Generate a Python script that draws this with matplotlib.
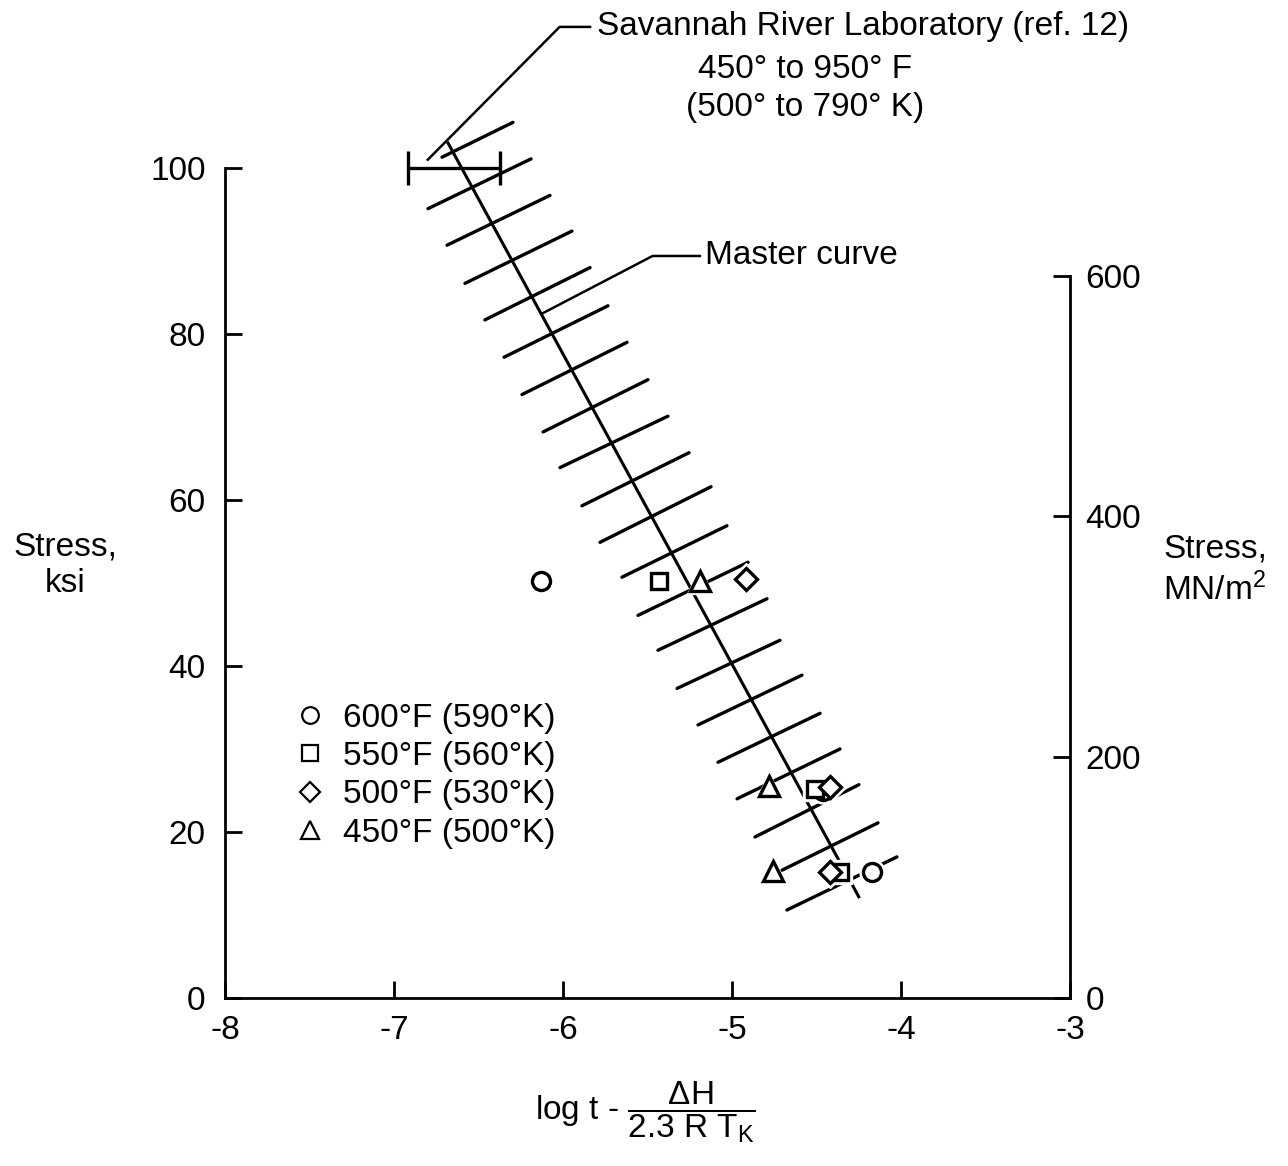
import numpy as np
import matplotlib
matplotlib.use("Agg")
from matplotlib import pyplot as plt
from matplotlib.lines import Line2D

plt.rcParams['font.family'] = ['Liberation Sans', 'DejaVu Sans']
plt.rcParams['mathtext.fontset'] = 'custom'
plt.rcParams['mathtext.rm'] = 'Liberation Sans'
plt.rcParams['mathtext.it'] = 'Liberation Sans'

KSI_TO_MN = 6.894757
FS = 24

# test points, log t - dH/(2.3 R T_K) vs stress (ksi)
labels = ['600°F (590°K)', '550°F (560°K)', '500°F (530°K)', '450°F (500°K)']
markers = ['o', 's', 'D', '^']
msizes = [13, 12, 11, 14]
x600 = [-6.13, -4.46, -4.17]
y600 = [50.3, 25.0, 15.2]
x550 = [-5.43, -4.51, -4.36]
y550 = [50.2, 25.2, 15.2]
x500 = [-4.92, -4.42, -4.42]
y500 = [50.5, 25.4, 15.2]
x450 = [-5.19, -4.78, -4.76]
y450 = [50.3, 25.5, 15.3]
series_x = [x600, x550, x500, x450]
series_y = [y600, y550, y500, y450]

# master curve end points
master_x = [-6.68, -4.25]
master_y = [103.0, 12.2]

# Savannah River scatter band (hatching), left and right ends of each stroke
band_lx = [-6.716, -6.799, -6.686, -6.580, -6.462, -6.349, -6.243, -6.118, -6.018, -5.888, -5.781,
           -5.651, -5.556, -5.438, -5.325, -5.201, -5.083, -4.970, -4.864, -4.704, -4.675]
band_ly = [101.3, 95.1, 90.7, 86.1, 81.7, 77.2, 72.7, 68.2, 63.9, 59.3, 54.9,
           50.7, 46.1, 41.9, 37.3, 32.9, 28.4, 24.0, 19.4, 15.4, 10.6]
band_rx = [-6.296, -6.189, -6.077, -5.947, -5.840, -5.734, -5.621, -5.497, -5.379, -5.254, -5.124,
           -5.030, -4.905, -4.793, -4.716, -4.586, -4.479, -4.361, -4.249, -4.136, -4.024]
band_ry = [105.5, 101.1, 96.7, 92.4, 88.0, 83.4, 79.0, 74.5, 70.1, 65.7, 61.6,
           56.9, 52.5, 48.1, 43.1, 38.9, 34.3, 30.0, 25.7, 21.1, 17.0]

# Savannah River Laboratory range bar
srl_x = -6.645
srl_err = 0.272
srl_y = 100.0

# leader lines
lead_srl_x = [-6.80, -6.02, -5.84]
lead_srl_y = [101.0, 117.0, 117.0]
lead_mc_x = [-6.12, -5.47, -5.19]
lead_mc_y = [82.5, 89.4, 89.4]

fig = plt.figure(figsize=(12.88, 11.66), dpi=100)
ax = fig.add_axes([225/1288, 1 - 998/1166, 845/1288, 996/1166])
ax.set_xlim(-8, -3)
ax.set_ylim(0, 120)

for lx, ly, rx, ry in zip(band_lx, band_ly, band_rx, band_ry):
    ax.plot([lx, rx], [ly, ry], color='black', lw=2.4, solid_capstyle='round', zorder=2)
ax.plot(master_x, master_y, color='black', lw=2.2, zorder=2)

ax.errorbar([srl_x], [srl_y], xerr=[srl_err], fmt='none', ecolor='black',
            elinewidth=2.4, capsize=12, capthick=2.4, zorder=3)

for xs, ys, m, ms in zip(series_x, series_y, markers, msizes):
    ax.plot(xs, ys, linestyle='none', marker=m, ms=ms + 5, mfc='white', mec='white', zorder=4)
    ax.plot(xs, ys, linestyle='none', marker=m, ms=ms, mfc='white', mec='black', mew=2.4, zorder=5)

ax.plot(lead_srl_x, lead_srl_y, color='black', lw=1.8, clip_on=False)
ax.plot(lead_mc_x, lead_mc_y, color='black', lw=1.8, clip_on=False)

ax.text(-5.80, 117.0, 'Savannah River Laboratory (ref. 12)', fontsize=FS, va='center', ha='left')
ax.text(-4.57, 111.9, '450° to 950° F', fontsize=FS, va='center', ha='center')
ax.text(-4.57, 107.3, '(500° to 790° K)', fontsize=FS, va='center', ha='center')
ax.text(-5.16, 89.4, 'Master curve', fontsize=FS, va='center', ha='left')

handles = [Line2D([], [], linestyle='none', marker=m, ms=ms - 1, mfc='white', mec='black', mew=1.6)
           for m, ms in zip(markers, msizes)]
ax.legend(handles, labels, loc='upper left', bbox_to_anchor=(0.053, 0.320), frameon=False,
          fontsize=FS, handlelength=1.0, handletextpad=0.5, labelspacing=0.22, borderpad=0.2)

ax.spines['top'].set_visible(False)
ax.spines['right'].set_visible(False)
ax.spines['left'].set_bounds(0, 100)
for s in ['left', 'bottom']:
    ax.spines[s].set_linewidth(2.0)
ax.set_xticks(np.arange(-8, -2.5, 1))
ax.set_xticklabels(['-8', '-7', '-6', '-5', '-4', '-3'])
ax.set_yticks(np.arange(0, 101, 20))
ax.tick_params(axis='x', direction='in', length=12, width=2, pad=12, labelsize=FS)
ax.tick_params(axis='y', direction='in', length=12, width=2, pad=14, labelsize=FS)

ax2 = ax.twinx()
ax2.set_ylim(0, 120 * KSI_TO_MN)
ax2.set_yticks([0, 200, 400, 600])
ax2.spines['top'].set_visible(False)
ax2.spines['left'].set_visible(False)
ax2.spines['bottom'].set_visible(False)
ax2.spines['right'].set_bounds(0, 600)
ax2.spines['right'].set_linewidth(2.0)
ax2.tick_params(axis='y', direction='in', length=12, width=2, pad=11, labelsize=FS)

fig.text(65/1288, 1 - 565/1166, 'Stress,\nksi', fontsize=FS, ha='center', va='center',
         linespacing=1.25)
fig.text(1215/1288, 1 - 570/1166, 'Stress,\nMN/m$^2$', fontsize=FS, ha='center', va='center',
         linespacing=1.3)
fig.text(645/1288, 1 - 1112/1166, r'log t - $\dfrac{\Delta\mathrm{H}}{\mathrm{2.3\ R\ T_K}}$',
         fontsize=FS, ha='center', va='center')

fig.savefig('out.png', dpi=100)
